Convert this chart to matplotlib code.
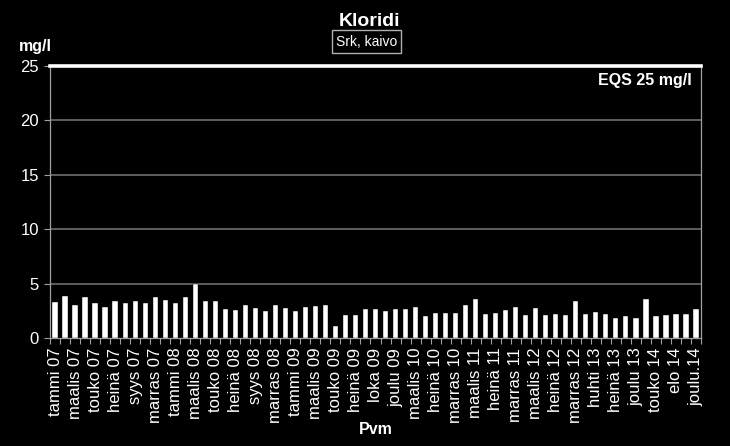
import matplotlib
matplotlib.use("Agg")
import matplotlib.pyplot as plt
import numpy as np

# ---- data ----
values = [3.33, 3.90, 3.03, 3.73, 3.24, 2.85, 3.42, 3.24, 3.42, 3.18,
          3.73, 3.52, 3.24, 3.73, 5.00, 3.42, 3.42, 2.64, 2.55, 3.03,
          2.79, 2.48, 3.07, 2.79, 2.48, 2.88, 2.98, 3.07, 1.07, 2.12,
          2.12, 2.67, 2.67, 2.48, 2.67, 2.67, 2.88, 1.99, 2.30, 2.30,
          2.30, 3.07, 3.56, 2.21, 2.30, 2.58, 2.88, 2.09, 2.79, 2.09,
          2.21, 2.09, 3.37, 2.21, 2.39, 2.21, 1.87, 1.99, 1.87, 3.56,
          1.99, 2.09, 2.21, 2.21, 2.67]
tick_labels = ["tammi 07", "maalis 07", "touko 07", "heinä 07", "syys 07", "marras 07",
               "tammi 08", "maalis 08", "touko 08", "heinä 08", "syys 08", "marras 08",
               "tammi 09", "maalis 09", "touko 09", "heinä 09", "loka 09", "joulu 09",
               "maalis 10", "heinä 10", "marras 10", "maalis 11", "heinä 11", "marras 11",
               "maalis 12", "heinä 12", "marras 12", "huhti 13", "heinä 13", "joulu 13",
               "touko 14", "elo 14", "joulu.14"]
y_ticks = [0, 5, 10, 15, 20, 25]
eqs_limit = 25
title = "Kloridi"
subtitle = "Srk, kaivo"
y_unit = "mg/l"
x_title = "Pvm"
eqs_text = "EQS 25 mg/l"

plt.rcParams['font.family'] = ['Liberation Sans', 'DejaVu Sans']

W, H = 730, 446
fig = plt.figure(figsize=(W / 100, H / 100), dpi=100, facecolor='black')
ax = fig.add_axes([50 / W, 1 - 338 / H, (701 - 50) / W, (338 - 66) / H])
ax.set_facecolor('black')

n = len(values)
x = np.arange(n)
ax.bar(x, values, width=0.52, color='white', edgecolor='black', linewidth=0.3, zorder=3)

ax.set_xlim(-0.5, n - 0.5)
ax.set_ylim(0, 25)

grid_c = '#6e6e6e'
for yv in y_ticks[1:-1]:
    ax.axhline(yv, color=grid_c, lw=1.2, zorder=1)
ax.axhline(eqs_limit, color='white', lw=2.6, zorder=4, clip_on=False)

for s in ['left', 'right', 'bottom']:
    ax.spines[s].set_color('#a0a0a0')
    ax.spines[s].set_linewidth(0.9)
ax.spines['top'].set_visible(False)

ax.set_yticks(y_ticks)
ax.set_yticklabels([str(v) for v in y_ticks], color='white', fontsize=12)
ax.tick_params(axis='y', colors='#a0a0a0', length=4, width=0.8, labelcolor='white', pad=4)

label_pos = x[::2]
ax.set_xticks(label_pos)
ax.set_xticklabels(tick_labels, rotation=90, color='white', fontsize=12)
ax.tick_params(axis='x', which='major', length=0, pad=7, labelcolor='white')
ax.set_xticks(np.arange(-0.5, n, 1), minor=True)
ax.tick_params(axis='x', which='minor', length=4, width=0.8, color='#a0a0a0')

fig.text(370 / W, 1 - 21 / H, title, color='white', fontsize=14, fontweight='bold',
         ha='center', va='center')
fig.text(366.5 / W, 1 - 41.5 / H, subtitle, color='white', fontsize=10,
         ha='center', va='center',
         bbox=dict(boxstyle='square,pad=0.3', facecolor='black', edgecolor='#b0b0b0', lw=1))
fig.text(19 / W, 1 - 46 / H, y_unit, color='white', fontsize=11.5, fontweight='bold',
         ha='left', va='center')
fig.text(692 / W, 1 - 81 / H, eqs_text, color='white', fontsize=11.5, fontweight='bold',
         ha='right', va='center')
fig.text(376 / W, 1 - 430 / H, x_title, color='white', fontsize=11.5, fontweight='bold',
         ha='center', va='center')

fig.savefig('out.png', dpi=100, facecolor='black')
